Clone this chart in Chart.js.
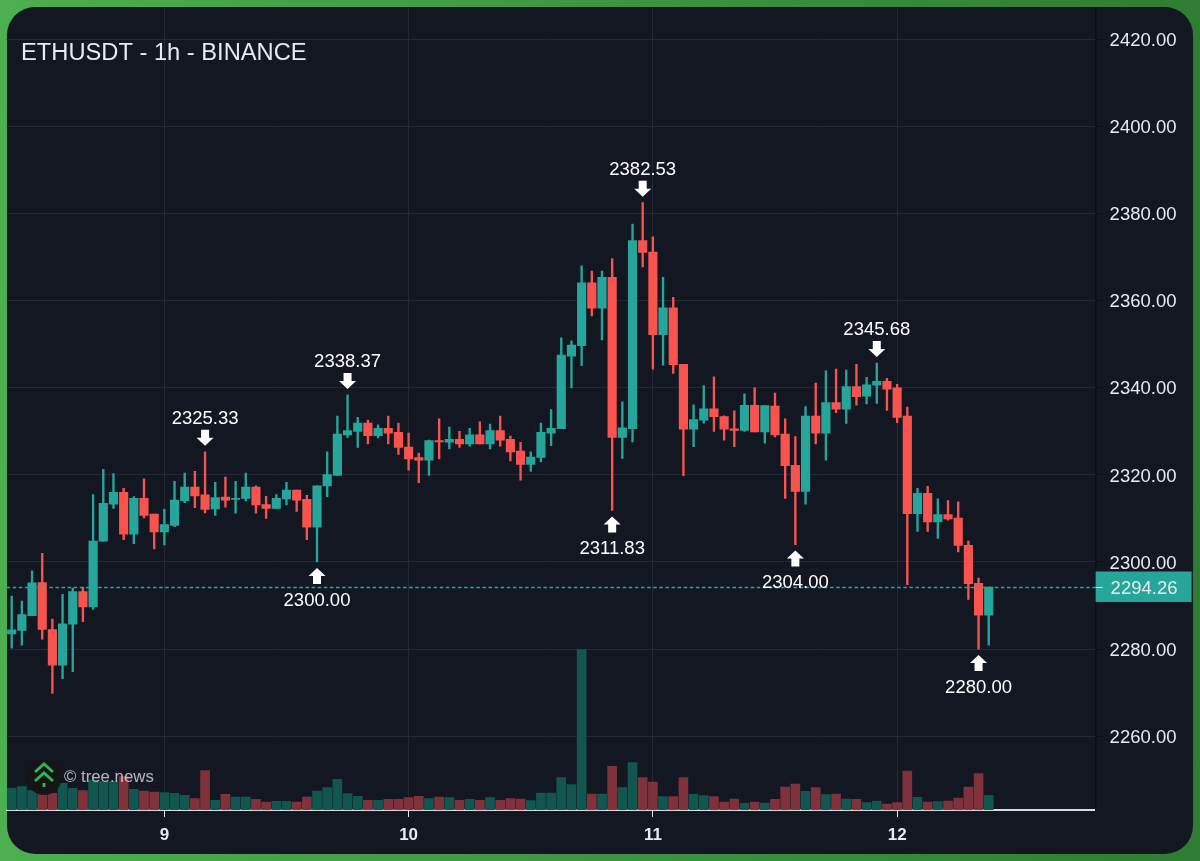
<!DOCTYPE html>
<html lang="en">
<head>
<meta charset="utf-8">
<title>ETHUSDT - 1h - BINANCE</title>
<script src="https://cdn.jsdelivr.net/npm/chart.js@4/dist/chart.umd.min.js"></script>
<style>
  html, body { margin: 0; padding: 0; }
  body { width: 1200px; height: 861px; overflow: hidden; position: relative;
         background: linear-gradient(to right, #4caf50 0%, #3f9443 50%, #2e7d32 100%); }
  #panel { position: absolute; left: 7px; top: 7px; width: 1186px; height: 847px;
           background: #131722; border-radius: 28px; }
  #chart { position: absolute; left: 0; top: 0; }
</style>
</head>
<body>
<div id="panel"></div>
<canvas id="chart" width="1200" height="861"></canvas>

<script>
var title = 'ETHUSDT - 1h - BINANCE';
var watermark = '\u00a9 tree.news';

// one hourly candle each, starting 8th 09:00
var opens = [
  2283.5,2284.3,2287.7,2295.3,2284.5,2276.3,2285.7,2293.2,2289.7,2304.8,
  2313.3,2316,2306.4,2314.6,2311,2306.9,2308.4,2314,2317.2,2315.4,
  2312.2,2314.9,2314.4,2314.6,2317.2,2313.2,2312.3,2314.5,2316.5,2314.4,
  2308,2317.5,2319.9,2329.2,2330,2331.9,2329,2330.7,2329.8,2326.4,
  2324,2323.4,2327.9,2327.5,2328.2,2327.1,2329.2,2327.1,2330.2,2328.2,
  2325.5,2322.4,2324,2329.6,2330.6,2347.3,2349.7,2364.1,2358.3,2365.4,
  2328.6,2330.6,2373.8,2371.2,2352.2,2358.4,2345.4,2330.5,2332.6,2335.2,
  2333.4,2330.6,2330.2,2336,2329.9,2335.8,2329.4,2322.2,2316.2,2333.5,
  2329.6,2336.6,2335.1,2340.3,2338.1,2340.6,2341.5,2340,2333.5,2311.1,
  2315.8,2309.2,2310.9,2310.1,2303.8,2295.1,2287.8
];
var highs = [
  2292.2,2291,2298,2302,2286.9,2292.6,2294,2294.2,2315.5,2321.3,
  2320.3,2316.9,2315,2319.1,2311,2312.1,2318.5,2320.4,2320.8,2325.33,
  2318.3,2319.5,2318.5,2320.4,2317.5,2315.1,2315.5,2318.3,2316.5,2315.3,
  2317.5,2325.3,2333.5,2338.37,2333.2,2332.6,2331.5,2333.5,2331.9,2329.6,
  2325,2328,2332.9,2331,2330,2330.7,2332.2,2331.7,2333.5,2328.9,
  2327.5,2325.3,2331.9,2335,2351.5,2350.8,2368,2366.8,2366.8,2369.7,
  2336.8,2377.6,2382.53,2374.7,2365.4,2360.8,2345.4,2336.1,2340.5,2342.5,
  2333.6,2334.7,2338.6,2340,2335.9,2338.8,2332.9,2328.8,2335.7,2341.1,
  2343.9,2344.3,2344.1,2345.4,2342.4,2345.68,2342.2,2340.8,2335.6,2316.9,
  2317.4,2314.5,2314.1,2313.8,2304.8,2296.3,2294.26
];
var lows = [
  2280.2,2280.9,2287.7,2282.3,2269.8,2273.2,2274.8,2286.3,2289.1,2304.8,
  2312.3,2305.1,2304.2,2310.1,2303,2303.9,2308.1,2313.6,2312.5,2311.3,
  2310.7,2312.6,2311.2,2314,2311.2,2310,2312.3,2313.1,2311.6,2305.1,
  2300,2315,2319.9,2328.6,2326.3,2327.1,2328.5,2327.1,2324.7,2321.1,
  2318.2,2319.9,2323.7,2326,2326.3,2326.6,2327.1,2326,2326.6,2323.2,
  2318.8,2320.8,2323,2326.7,2330.6,2340,2345.1,2356.5,2351,2311.83,
  2323.8,2327.6,2367.8,2344.3,2345.2,2343.3,2319.8,2326.5,2331.9,2330,
  2328,2326.5,2330,2329.9,2327.3,2328.7,2314.6,2304,2313.3,2327.1,
  2323.4,2334.3,2331.8,2336,2336.3,2336.4,2334.8,2332,2294.8,2307,
  2307,2305.4,2309.6,2302.3,2291.4,2280,2280.9
];
var closes = [
  2284.4,2287.9,2295.2,2284.5,2276.3,2285.8,2293.2,2289.7,2304.8,2313.5,
  2316,2306.4,2314.6,2310.7,2306.9,2308.6,2314.2,2317.2,2315.2,2312.1,
  2314.8,2314.2,2314.6,2317.2,2313.1,2312.3,2314.6,2316.5,2314.2,2308,
  2317.5,2320.1,2329.4,2330.2,2331.9,2329,2330.7,2329.6,2326.3,2323.7,
  2323.4,2327.9,2327.6,2328.2,2327.1,2329.2,2327.1,2330.2,2328,2325.3,
  2322.4,2324.1,2329.8,2330.7,2347.5,2349.8,2364.1,2358.3,2365.4,2328.6,
  2330.8,2373.8,2371.1,2352.2,2358.4,2345.3,2330.5,2332.7,2335.2,2333.4,
  2330.5,2330.2,2336,2329.9,2335.9,2329.2,2322.1,2316.2,2333.5,2329.6,
  2336.6,2335.1,2340.3,2338,2340.7,2341.5,2339.7,2333.2,2311.1,2315.8,
  2309.2,2310.9,2309.9,2303.8,2295,2287.8,2294.26
];
var volumes = [
  66,70,58,50,50,80,65,58,90,85,
  85,100,62,57,54,52,50,44,34,118,
  29,47,39,39,32,24,26,26,24,39,
  57,67,92,49,41,29,29,32,32,37,
  41,34,39,37,29,32,29,37,29,34,
  33,28,51,51,97,76,481,48,48,131,
  67,142,97,84,40,40,97,47,43,40,
  24,33,20,24,21,32,69,78,56,67,
  46,48,33,32,22,27,18,22,117,38,
  24,25,27,36,69,109,43
];

// the axis runs on past the last candle
var slots = 107;
var dayIndex = [15, 39, 63, 87];
var dayLabels = ['9', '10', '11', '12'];

var markerIndex = [19, 33, 62, 85, 30, 59, 77, 95];
var markerPrice = [2325.33, 2338.37, 2382.53, 2345.68, 2300.00, 2311.83, 2304.00, 2280.00];
var markerAbove = [true, true, true, true, false, false, false, false];

var lastPrice = 2294.26;
var priceMin = 2243.04, priceMax = 2427.24;
var volumeMax = 2406;

var upColor = '#26a69a', downColor = '#f95350';
var upVolume = '#115750', downVolume = '#7f323b';
var gridColor = '#252934', labelColor = '#e8eaed';

var labels = [];
for (var i = 0; i < slots; i++) {
  var d = dayIndex.indexOf(i);
  labels.push(d >= 0 ? dayLabels[d] : '');
}

var wicks = [], bodies = [], candleColors = [], volumeColors = [];
for (var c = 0; c < opens.length; c++) {
  var up = closes[c] >= opens[c];
  wicks.push([lows[c], highs[c]]);
  bodies.push([opens[c], closes[c]]);
  candleColors.push(up ? upColor : downColor);
  volumeColors.push(up ? upVolume : downVolume);
}

// no room reserved for half a tick label, the plot fills the panel
function noPadding(scale) {
  scale.paddingTop = 0;
  scale.paddingBottom = 0;
  scale.paddingLeft = 0;
  scale.paddingRight = 0;
}

var overlay = {
  id: 'overlay',
  afterDatasetsDraw: function (chart) {
    var ctx = chart.ctx, area = chart.chartArea;
    var xs = chart.scales.x, ys = chart.scales.y;
    var lastY = Math.round(ys.getPixelForValue(lastPrice)) + 0.5;

    // last price line and tag
    ctx.save();
    ctx.strokeStyle = upColor;
    ctx.lineWidth = 1.3;
    ctx.setLineDash([3.5, 2.6]);
    ctx.beginPath();
    ctx.moveTo(area.left, lastY);
    ctx.lineTo(area.right, lastY);
    ctx.stroke();
    ctx.setLineDash([]);
    ctx.lineWidth = 1;
    ctx.fillStyle = '#26a69a';
    ctx.fillRect(area.right, lastY - 16, 96, 30.5);
    ctx.strokeStyle = '#e8eaed';
    ctx.beginPath();
    ctx.moveTo(area.right, lastY);
    ctx.lineTo(area.right + 7, lastY);
    ctx.stroke();
    ctx.fillStyle = labelColor;
    ctx.font = '18.5px "Liberation Sans"';
    ctx.textAlign = 'left';
    ctx.textBaseline = 'middle';
    ctx.fillText(lastPrice.toFixed(2), area.right + 15, lastY + 1);

    // high / low arrows
    ctx.fillStyle = '#ffffff';
    for (var m = 0; m < markerIndex.length; m++) {
      var x = xs.getPixelForValue(markerIndex[m]);
      var y = ys.getPixelForValue(markerPrice[m]);
      var s = markerAbove[m] ? -1 : 1;
      var tip = y + s * 6, end = tip + s * 16, neck = tip + s * 8;
      ctx.beginPath();
      ctx.moveTo(x, tip);
      ctx.lineTo(x + 8.5, neck);
      ctx.lineTo(x + 4, neck);
      ctx.lineTo(x + 4, end);
      ctx.lineTo(x - 4, end);
      ctx.lineTo(x - 4, neck);
      ctx.lineTo(x - 8.5, neck);
      ctx.closePath();
      ctx.fill();
      ctx.textAlign = 'center';
      ctx.fillText(markerPrice[m].toFixed(2), x, y + (markerAbove[m] ? -33 : 38.5));
    }

    // logo + name
    ctx.fillStyle = 'rgba(22,22,22,0.92)';
    ctx.beginPath();
    ctx.arc(44, 777, 18, 0, Math.PI * 2);
    ctx.fill();
    ctx.strokeStyle = '#2fb457';
    ctx.lineWidth = 3;
    ctx.beginPath();
    ctx.moveTo(35, 772); ctx.lineTo(44, 764); ctx.lineTo(53, 772);
    ctx.moveTo(35, 781); ctx.lineTo(44, 773); ctx.lineTo(53, 781);
    ctx.stroke();
    ctx.fillStyle = '#2fb457';
    ctx.fillRect(42.5, 783, 3, 4);
    ctx.fillStyle = 'rgba(255,255,255,0.68)';
    ctx.font = '16.8px "Liberation Sans"';
    ctx.textAlign = 'left';
    ctx.fillText(watermark, 64, 777);

    ctx.fillStyle = labelColor;
    ctx.font = '23.7px "Liberation Sans"';
    ctx.fillText(title, 21, 53);
    ctx.restore();
  }
};

new Chart(document.getElementById('chart').getContext('2d'), {
  type: 'bar',
  data: {
    labels: labels,
    datasets: [
      { label: 'Volume', data: volumes, yAxisID: 'vol', order: 3, grouped: false,
        backgroundColor: volumeColors, barThickness: 9 },
      { label: 'Wick', data: wicks, yAxisID: 'y', order: 2, grouped: false,
        backgroundColor: candleColors, barThickness: 1.7, borderSkipped: false },
      { label: 'Body', data: bodies, yAxisID: 'y', order: 1, grouped: false,
        backgroundColor: candleColors, barThickness: 8.5, borderSkipped: false }
    ]
  },
  options: {
    responsive: false,
    animation: false,
    layout: { padding: { left: 6.6, right: 7.4, top: 8, bottom: 7 } },
    plugins: { legend: { display: false }, tooltip: { enabled: false } },
    scales: {
      x: {
        afterBuildTicks: function (scale) {
          scale.ticks = scale.ticks.filter(function (t) { return dayIndex.indexOf(t.value) >= 0; });
        },
        afterFit: function (scale) { scale.height = 44; noPadding(scale); },
        border: { color: '#d9dde1', width: 2 },
        grid: { color: gridColor, offset: false, tickColor: '#e8eaed', tickLength: 7 },
        ticks: { color: labelColor, autoSkip: false, maxRotation: 0, padding: 8,
                 font: { family: 'Liberation Sans', size: 17, weight: 'bold' } }
      },
      y: {
        position: 'right',
        min: priceMin,
        max: priceMax,
        afterFit: function (scale) { scale.width = 97; noPadding(scale); },
        border: { color: '#0b0e15', width: 1.5 },
        grid: { color: gridColor, tickColor: '#0b0e15', tickLength: 7 },
        ticks: {
          stepSize: 20, includeBounds: false, color: labelColor, padding: 7, labelOffset: 1.5,
          font: { family: 'Liberation Sans', size: 18.5 },
          callback: function (v) { return v.toFixed(2); }
        }
      },
      vol: { display: false, min: 0, max: volumeMax }
    }
  },
  plugins: [overlay]
});
</script>
</body>
</html>
